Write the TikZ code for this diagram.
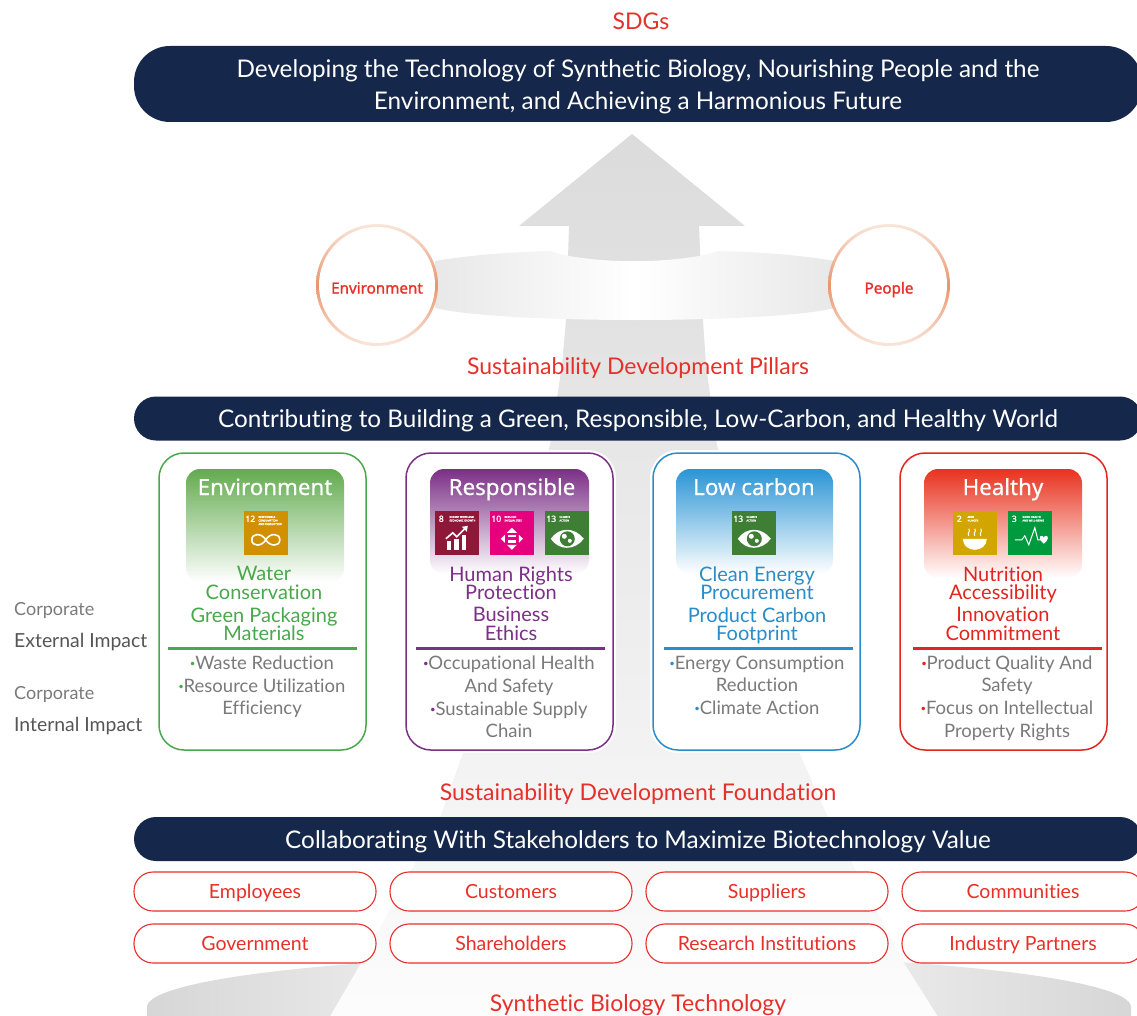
\documentclass[tikz,border=0pt]{standalone}
\usepackage{fontspec}
\setmainfont{Lato}[Ligatures=CommonOff]
\newfontfamily\headfont{Noto Sans}[FakeBold=0.5]
\newfontfamily\boldfont{Noto Sans}[FakeBold=1.5]
\definecolor{barblue}{HTML}{15274A}
\definecolor{sdgred}{HTML}{E8302A}
\definecolor{envgreen}{HTML}{4AA84C}
\definecolor{envhead}{HTML}{62AB4E}
\definecolor{respurple}{HTML}{7B2F86}
\definecolor{lowblue}{HTML}{2A8CC8}
\definecolor{lowhead}{HTML}{2A95D5}
\definecolor{healthred}{HTML}{E2261E}
\definecolor{healthhead}{HTML}{E8321E}
\definecolor{greytext}{HTML}{7A7A7A}
\definecolor{sidetext}{HTML}{555555}
\definecolor{ringorange}{HTML}{E8956D}
\definecolor{ringpale}{HTML}{FAE6DB}
\definecolor{sdgtwelve}{HTML}{D19000}
\definecolor{sdgeight}{HTML}{8F1838}
\definecolor{sdgten}{HTML}{E5007D}
\definecolor{sdgthirteen}{HTML}{3F7E35}
\definecolor{sdgtwo}{HTML}{D3A500}
\definecolor{sdgthree}{HTML}{009A3E}
\newcommand{\fsz}[2]{\fontsize{#1}{#2}\selectfont}
\newcommand{\dotit}[1]{\textcolor{#1}{\textbf{·}}}
\tikzset{
    pillbar/.style={fill=barblue,rounded corners=22pt,text=white,minimum height=44pt,minimum width=1008pt,inner sep=0pt,text height=22pt,text depth=4pt,font=\fsz{24.3}{32}},
    redtitle/.style={text=sdgred,inner sep=0pt,text height=17pt,text depth=5pt,font=\fsz{23}{26}},
    stakeholder/.style={draw=sdgred,line width=1.1pt,fill=white,rounded corners=19pt,text=sdgred,minimum width=242pt,minimum height=39pt,inner sep=0pt,text height=17pt,text depth=4pt,font=\fsz{19.5}{22}},
    pillarcard/.style={fill=white,line width=1.5pt,rounded corners=25pt,minimum width=207pt,minimum height=297pt,inner sep=0pt,preaction={draw=white,line width=6pt}},
    cardhead/.style={text=white,inner sep=0pt,text height=16pt,text depth=4pt,font=\headfont\fsz{22.3}{24}},
    cardgreen/.style={inner sep=0pt,align=center,font=\fsz{20}{18.5}},
    cardgrey/.style={text=greytext,inner sep=0pt,align=center,font=\fsz{18.5}{22.6}},
    sidelabel/.style={text=sidetext,inner sep=0pt,anchor=west,font=\fsz{19.4}{20}},
    sdgtile/.style={minimum size=44pt,inner sep=0pt},
    sdgnum/.style={text=white,inner sep=0pt,font=\boldfont\fsz{8.5}{8.5}},
    sdgname/.style={text=white,inner sep=0pt,anchor=north west,align=left,font=\boldfont\fsz{2.6}{3.6}},
    glyph/.style={draw=white,line width=1.6pt},
    ringnode/.style={circle,minimum size=122pt,inner sep=0pt,top color=ringpale,bottom color=ringpale,middle color=ringorange},
    ringfill/.style={circle,fill=white,minimum size=116pt,inner sep=0pt,text=sdgred,text height=17pt,text depth=0pt,font=\boldfont\fsz{15.2}{16}},
}
\newcommand{\sdgicon}[6]{
    \node[sdgtile,fill=#3] (#1) at (#2) {};
    \node[sdgnum] (#1num) at ([xshift=6.5pt,yshift=-8pt]#1.north west) {#4};
    \node[sdgname] (#1name) at ([xshift=14.5pt,yshift=-5pt]#1.north west) {#5};
    \begin{scope}[shift={(#1.north west)}]
        #6
    \end{scope}
}
\newcommand{\glyphloop}{\draw[glyph] (22,29) .. controls (18,22) and (8,22) .. (8,29) .. controls (8,36) and (18,36) .. (22,29) .. controls (26,22) and (36,22) .. (36,29) .. controls (36,36) and (26,36) .. (22,29);}
\newcommand{\glyphchart}{
    \fill[white] (12,30) rectangle (16,39);
    \fill[white] (19,28) rectangle (24,39);
    \fill[white] (27,24) rectangle (31,39);
    \draw[glyph] (11,28) -- (18,22) -- (22,26) -- (31,17);
    \fill[white] (33,15) -- (27,16) -- (32,21) -- cycle;
}
\newcommand{\glyphequal}{
    \fill[white] (22,17) -- (27,22) -- (17,22) -- cycle;
    \fill[white] (22,39) -- (27,34) -- (17,34) -- cycle;
    \fill[white] (11,28) -- (15,24) -- (15,32) -- cycle;
    \fill[white] (33,28) -- (29,24) -- (29,32) -- cycle;
    \fill[white] (18,24) rectangle (26,26.5);
    \fill[white] (18,29.5) rectangle (26,32);
}
\newcommand{\glypheye}{
    \fill[white] (6,28) .. controls (14,16) and (30,16) .. (39,28) .. controls (30,40) and (14,40) .. (6,28) -- cycle;
    \fill[sdgthirteen] (22.5,28) circle (7.5pt);
    \fill[white] (19.5,25.5) circle (2.5pt);
    \fill[white] (25,30) circle (2pt);
}
\newcommand{\glyphbowl}{
    \fill[white] (10,28) -- (34,28) .. controls (34,35) and (28,39) .. (22,39) .. controls (16,39) and (10,35) .. (10,28) -- cycle;
    \draw[white,line width=1pt] (16,25) .. controls (14,22) and (18,21) .. (16,18);
    \draw[white,line width=1pt] (22,25) .. controls (20,22) and (24,21) .. (22,18);
    \draw[white,line width=1pt] (28,25) .. controls (26,22) and (30,21) .. (28,18);
}
\newcommand{\glyphpulse}{
    \draw[white,line width=1pt] (7,29) -- (14,29) -- (17,25) -- (21,34) -- (27,17) -- (30,29) -- (33,29);
    \fill[white] (36,33) .. controls (31,29) and (31,25) .. (34,25) .. controls (35,25) and (36,26) .. (36,27) .. controls (36,26) and (37,25) .. (38,25) .. controls (41,25) and (41,29) .. (36,33) -- cycle;
}
\begin{document}
\begin{tikzpicture}[x=1pt,y=-1pt]
    \clip (0,0) rectangle (1137,1016);
    % background
    \shade[left color=black!16,right color=black!16,middle color=white] (147,1007) arc[start angle=180,end angle=360,x radius=492,y radius=53] -- (1131,1060) -- (147,1060) -- cycle;
    \shade[top color=black!14,bottom color=black!1] (632,134) -- (745,226) -- (699,226) -- (703,320) -- (706,365) -- (717,445) -- (798,750) -- (827,815) -- (904,963) -- (940,1020) -- (328,1020) -- (361,963) -- (441,815) -- (464,750) -- (550,445) -- (562,365) -- (566,320) -- (569,226) -- (519,226) -- cycle;
    \shade[left color=black!9,right color=black!9,middle color=white] (435,261) .. controls (470,255) and (510,252) .. (551,251) .. controls (556,253) and (562,255) .. (569,256) .. controls (610,263) and (658,263) .. (699,256) .. controls (706,255) and (712,253) .. (718,251) .. controls (760,252) and (800,255) .. (835,261) -- (835,308) .. controls (770,324) and (500,324) .. (435,308) -- cycle;

    % top part
    \node[redtitle] (sdgs) at (641,24) {SDGs};
    \node[pillbar,minimum height=76pt,rounded corners=36pt,align=center,text height=,text depth=] (topbar) at (638,84) {\rule{0pt}{24pt}Developing the Technology of Synthetic Biology, Nourishing People and the\\Environment, and Achieving a Harmonious Future};
    \node[ringnode] (envring) at (377,285) {};
    \node[ringfill] (envcircle) at (377,285) {Environment};
    \node[ringnode] (peoplering) at (889,285) {};
    \node[ringfill] (peoplecircle) at (889,285) {People};

    % pillars
    \node[redtitle] (pillars) at (638,368) {Sustainability Development Pillars};
    \node[pillbar] (midbar) at (638,418.5) {Contributing to Building a Green, Responsible, Low-Carbon, and Healthy World};

    \node[sidelabel,text=greytext,font=\fsz{18}{20}] (extone) at (14,611) {Corporate};
    \node[sidelabel] (exttwo) at (14,642) {External Impact};
    \node[sidelabel,text=greytext,font=\fsz{18}{20}] (intone) at (14,695) {Corporate};
    \node[sidelabel] (inttwo) at (14,726) {Internal Impact};

    \node[pillarcard,draw=envgreen] (envcard) at (262.5,601.5) {};
    \node[pillarcard,draw=respurple] (respcard) at (509.5,601.5) {};
    \node[pillarcard,draw=lowblue] (lowcard) at (756.5,601.5) {};
    \node[pillarcard,draw=healthred] (healthcard) at (1003.5,601.5) {};

    \shade[top color=envhead,bottom color=white,rounded corners=14pt] (186,582) -- (186,469) -- (344,469) -- (344,582) -- cycle;
    \shade[top color=respurple,bottom color=white,rounded corners=14pt] (430,574) -- (430,469) -- (589,469) -- (589,574) -- cycle;
    \shade[top color=lowhead,bottom color=white,rounded corners=14pt] (676,574) -- (676,469) -- (833,469) -- (833,574) -- cycle;
    \shade[top color=healthhead,bottom color=white,rounded corners=14pt] (924,578) -- (924,469) -- (1082,469) -- (1082,578) -- cycle;

    \node[cardhead] (envhead) at (265,489) {Environment};
    \node[cardhead] (resphead) at (512,489) {Responsible};
    \node[cardhead] (lowhead) at (754,489) {Low carbon};
    \node[cardhead] (healthhead) at (1003,489) {Healthy};

    \sdgicon{sdgA}{266,533}{sdgtwelve}{12}{RESPONSIBLE\\CONSUMPTION\\AND PRODUCTION}{\glyphloop}
    \sdgicon{sdgB}{457,533}{sdgeight}{8}{DECENT WORK AND\\ECONOMIC GROWTH}{\glyphchart}
    \sdgicon{sdgC}{512,533}{sdgten}{10}{REDUCED\\INEQUALITIES}{\glyphequal}
    \sdgicon{sdgD}{567,533}{sdgthirteen}{13}{CLIMATE\\ACTION}{\glypheye}
    \sdgicon{sdgE}{754,533}{sdgthirteen}{13}{CLIMATE\\ACTION}{\glypheye}
    \sdgicon{sdgF}{975,533}{sdgtwo}{2}{ZERO\\HUNGER}{\glyphbowl}
    \sdgicon{sdgG}{1030,533}{sdgthree}{3}{GOOD HEALTH\\AND WELL-BEING}{\glyphpulse}

    \node[cardgreen,text=envgreen] (envone) at (264,583) {Water\\Conservation};
    \node[cardgreen,text=envgreen] (envtwo) at (264,624) {Green Packaging\\Materials};
    \node[cardgreen,text=respurple] (respone) at (511,583) {Human Rights\\Protection};
    \node[cardgreen,text=respurple] (resptwo) at (511,624) {Business\\Ethics};
    \node[cardgreen,text=lowblue] (lowone) at (757,583) {Clean Energy\\Procurement};
    \node[cardgreen,text=lowblue] (lowtwo) at (757,626) {Product Carbon\\Footprint};
    \node[cardgreen,text=healthred] (healthone) at (1003,585) {Nutrition\\Accessibility};
    \node[cardgreen,text=healthred] (healthtwo) at (1003,624) {Innovation\\Commitment};

    \draw[envgreen,line width=3pt] (168,648.5) -- (357,648.5);
    \draw[respurple,line width=3pt] (416,648.5) -- (605,648.5);
    \draw[lowblue,line width=3pt] (664,648.5) -- (853,648.5);
    \draw[healthred,line width=3pt] (913,648.5) -- (1102,648.5);

    \node[cardgrey] (envlist) at (262,687) {\dotit{envgreen}Waste Reduction\\\dotit{envgreen}Resource Utilization\\Efficiency};
    \node[cardgrey] (resplist) at (509,697) {\dotit{respurple}Occupational Health\\And Safety\\\dotit{respurple}Sustainable Supply\\Chain};
    \node[cardgrey] (lowlist) at (757,685) {\dotit{lowblue}Energy Consumption\\Reduction\\\dotit{lowblue}Climate Action};
    \node[cardgrey] (healthlist) at (1007,698) {\dotit{healthred}Product Quality And\\Safety\\\dotit{healthred}Focus on Intellectual\\Property Rights};

    % foundation
    \node[redtitle] (foundation) at (638,794) {Sustainability Development Foundation};
    \node[pillbar] (lowbar) at (638,839) {Collaborating With Stakeholders to Maximize Biotechnology Value};

    \node[stakeholder] (employees) at (255,891.5) {Employees};
    \node[stakeholder] (customers) at (511,891.5) {Customers};
    \node[stakeholder] (suppliers) at (767,891.5) {Suppliers};
    \node[stakeholder] (communities) at (1023,891.5) {Communities};
    \node[stakeholder] (government) at (255,943.5) {Government};
    \node[stakeholder] (shareholders) at (511,943.5) {Shareholders};
    \node[stakeholder] (research) at (767,943.5) {Research Institutions};
    \node[stakeholder] (partners) at (1023,943.5) {Industry Partners};

    \node[redtitle] (technology) at (638,1005) {Synthetic Biology Technology};
\end{tikzpicture}
\end{document}
